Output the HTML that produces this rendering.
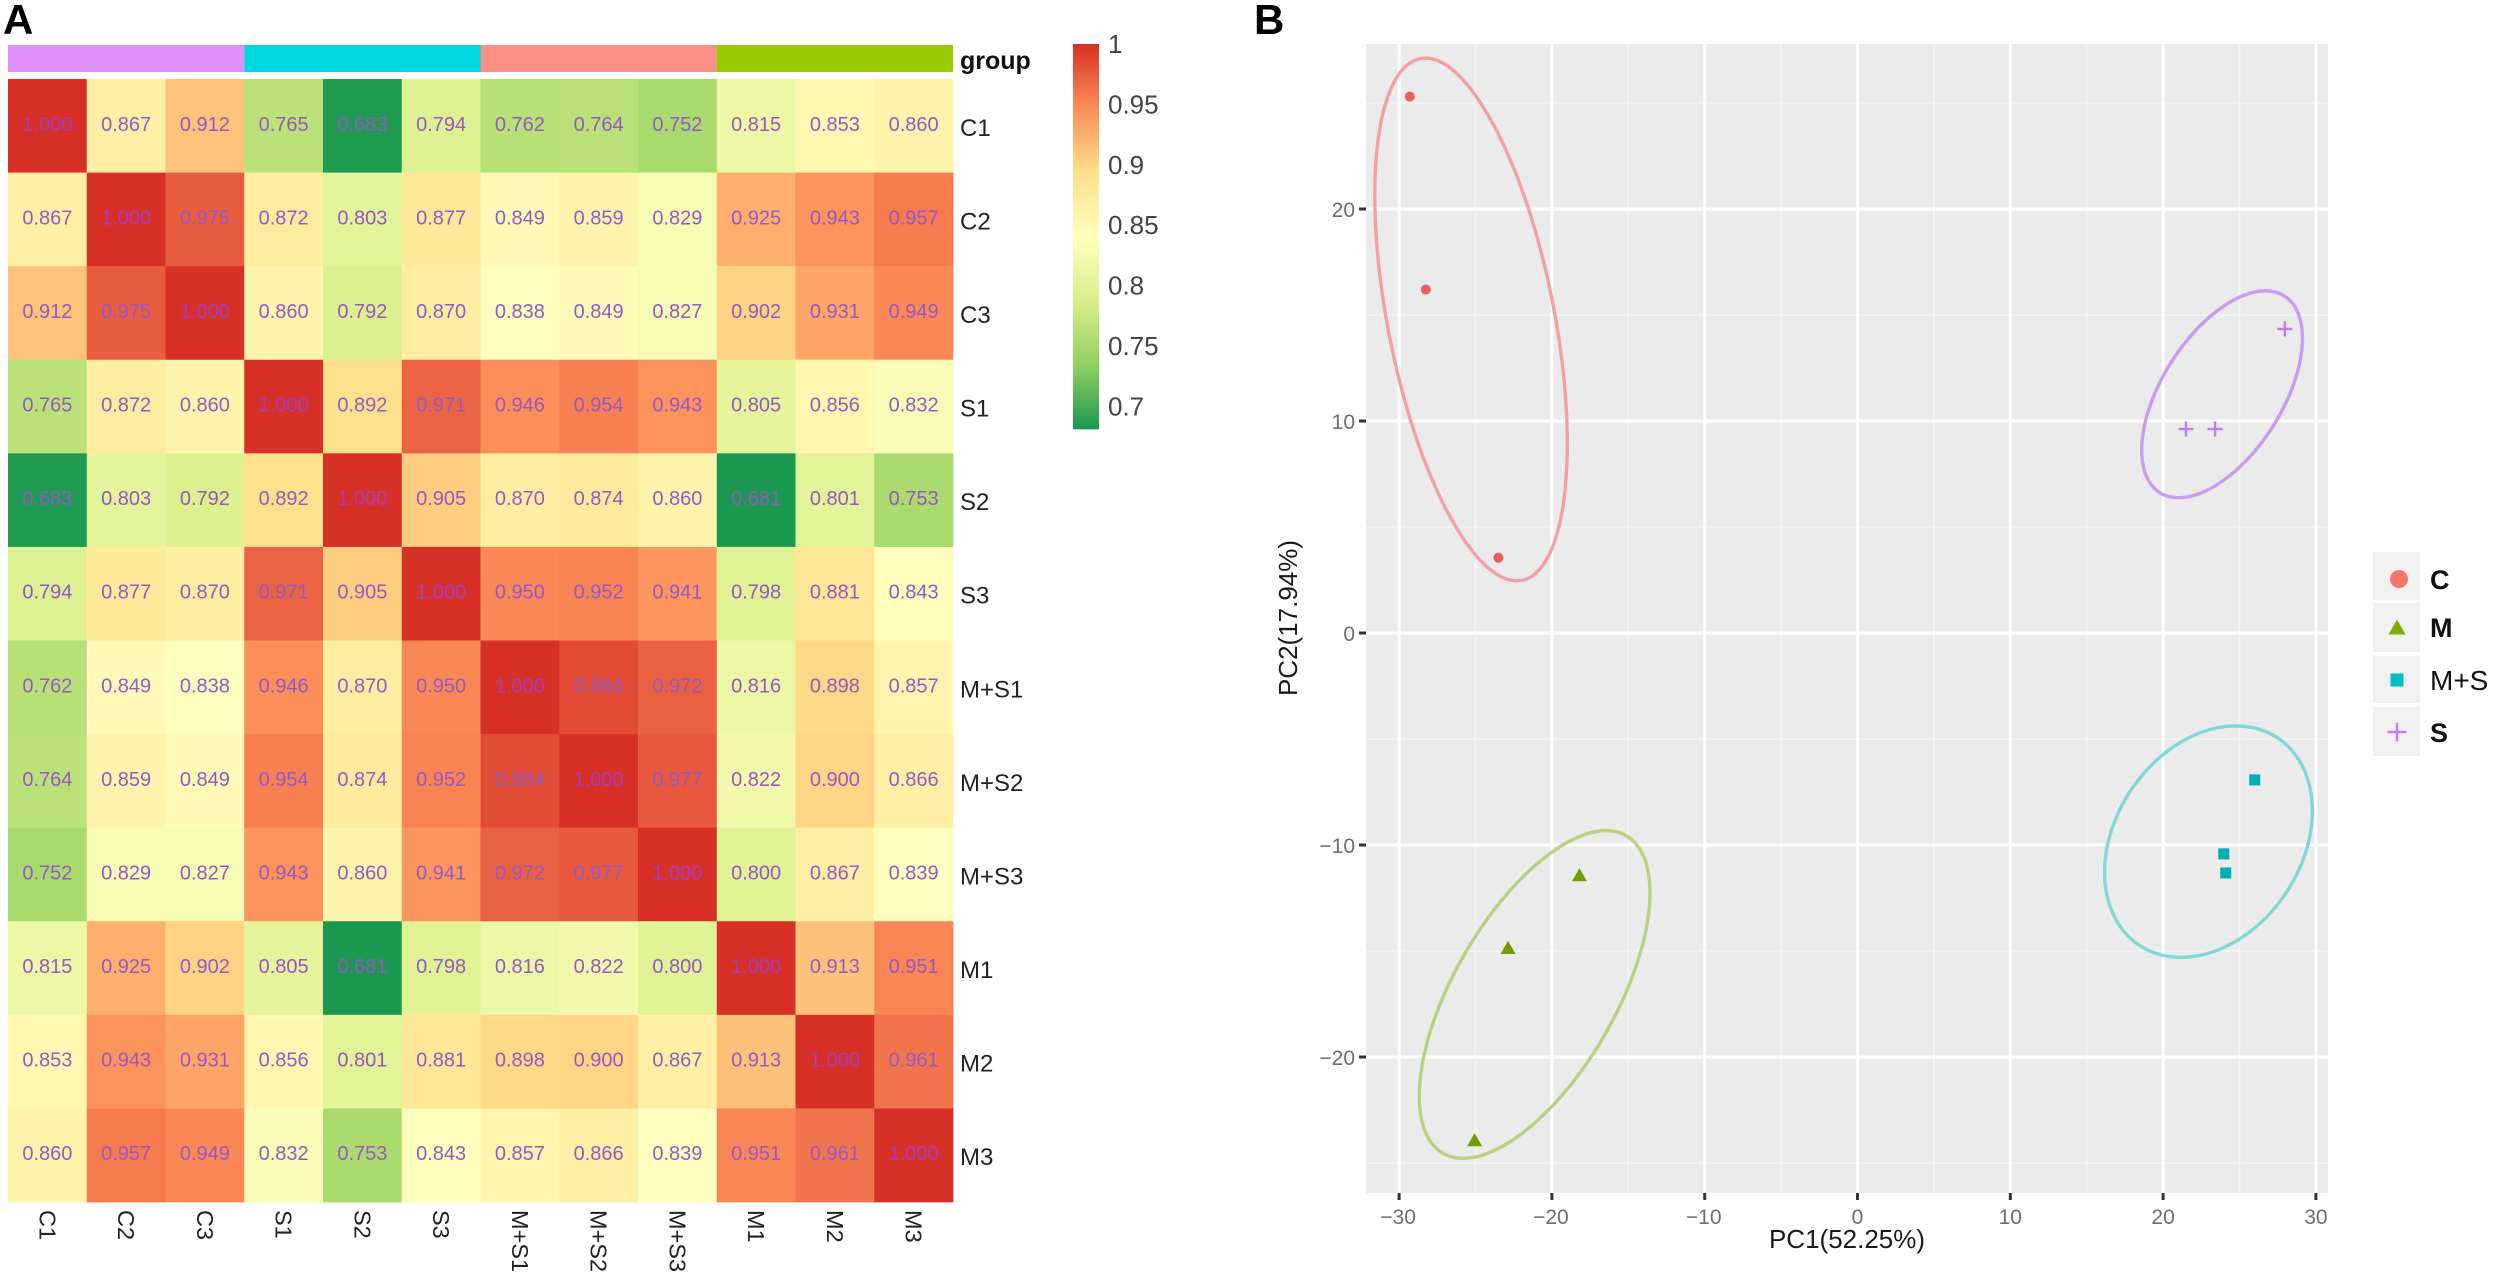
<!DOCTYPE html>
<html lang="en">
<head>
<meta charset="utf-8">
<title>Correlation heatmap and PCA plot</title>
<style>
html,body{margin:0;padding:0;background:#fff;width:2500px;height:1284px;overflow:hidden}
svg{display:block}
text{font-family:"Liberation Sans",sans-serif}
</style>
</head>
<body>
<svg id="figure" xmlns="http://www.w3.org/2000/svg" width="2500" height="1284" viewBox="0 0 2500 1284">
  <rect x="0" y="0" width="2500" height="1284" fill="#ffffff"/>
  <text x="3" y="34" font-size="42" font-weight="bold" fill="#000">A</text>
  <text x="1254" y="34" font-size="42" font-weight="bold" fill="#000">B</text>
  <g id="heatmap"></g>
  <g id="colorbar"></g>
  <g id="pca"></g>
  <text x="1847" y="1248" font-size="26" text-anchor="middle" fill="#1a1a1a">PC1(52.25%)</text>
  <text transform="translate(1297,618) rotate(-90)" font-size="26" text-anchor="middle" fill="#1a1a1a">PC2(17.94%)</text>
  <g id="legend"></g>
</svg>
<script>
/* ---------- heatmap data ---------- */
const sampleLabels = ["C1","C2","C3","S1","S2","S3","M+S1","M+S2","M+S3","M1","M2","M3"];
const groupNames = ["group-c","group-s","group-m-s","group-m"];
const groupColors = ["#df90fb","#00d8e0","#fb9087","#99cc00"];
const rowC1 = [1.000,0.867,0.912,0.765,0.683,0.794,0.762,0.764,0.752,0.815,0.853,0.860];
const rowC2 = [0.867,1.000,0.975,0.872,0.803,0.877,0.849,0.859,0.829,0.925,0.943,0.957];
const rowC3 = [0.912,0.975,1.000,0.860,0.792,0.870,0.838,0.849,0.827,0.902,0.931,0.949];
const rowS1 = [0.765,0.872,0.860,1.000,0.892,0.971,0.946,0.954,0.943,0.805,0.856,0.832];
const rowS2 = [0.683,0.803,0.792,0.892,1.000,0.905,0.870,0.874,0.860,0.681,0.801,0.753];
const rowS3 = [0.794,0.877,0.870,0.971,0.905,1.000,0.950,0.952,0.941,0.798,0.881,0.843];
const rowMS1 = [0.762,0.849,0.838,0.946,0.870,0.950,1.000,0.984,0.972,0.816,0.898,0.857];
const rowMS2 = [0.764,0.859,0.849,0.954,0.874,0.952,0.984,1.000,0.977,0.822,0.900,0.866];
const rowMS3 = [0.752,0.829,0.827,0.943,0.860,0.941,0.972,0.977,1.000,0.800,0.867,0.839];
const rowM1 = [0.815,0.925,0.902,0.805,0.681,0.798,0.816,0.822,0.800,1.000,0.913,0.951];
const rowM2 = [0.853,0.943,0.931,0.856,0.801,0.881,0.898,0.900,0.867,0.913,1.000,0.961];
const rowM3 = [0.860,0.957,0.949,0.832,0.753,0.843,0.857,0.866,0.839,0.951,0.961,1.000];
const correlationRows = [rowC1,rowC2,rowC3,rowS1,rowS2,rowS3,rowMS1,rowMS2,rowMS3,rowM1,rowM2,rowM3];
const colorbarTicks = [1,0.95,0.9,0.85,0.8,0.75,0.7];
const colorbarTickLabels = ["1","0.95","0.9","0.85","0.8","0.75","0.7"];
const colorRamp = ["#1a9850","#91cf60","#d9ef8b","#ffffbf","#fee08b","#fc8d59","#d73027"];
const colorDomain = [0.681,1];

/* ---------- PCA data ---------- */
const xTicks = [-30,-20,-10,0,10,20,30];
const yTicks = [-20,-10,0,10,20];
const xMinorTicks = [-25,-15,-5,5,15,25];
const yMinorTicks = [-25,-15,-5,5,15,25];
const cPC1 = [-29.3,-28.25,-23.5];
const cPC2 = [25.3,16.2,3.55];
const mPC1 = [-18.2,-22.87,-25.06];
const mPC2 = [-11.4,-14.83,-23.9];
const msPC1 = [26.0,23.97,24.1];
const msPC2 = [-6.93,-10.42,-11.32];
const sPC1 = [27.97,21.5,23.4];
const sPC2 = [14.34,9.62,9.62];
const ellipseCenterPC1 = [-25.29,-21.13,22.97,23.86];
const ellipseCenterPC2 = [14.79,-17.05,-9.84,11.26];
const ellipseSpreadPC1 = [6.3,7.55,6.8,5.26];
const ellipseSpreadPC2 = [12.33,7.73,5.46,4.88];
const ellipseCorrelation = [-0.475,0.62,0.265,0.54];
const legendLabels = ["C","M","M+S","S"];

const NS = "http://www.w3.org/2000/svg";
function mk(parent, tag, attrs, txt){
  const e = document.createElementNS(NS, tag);
  for (const k in attrs) e.setAttribute(k, attrs[k]);
  if (txt !== undefined) e.textContent = txt;
  parent.appendChild(e);
  return e;
}
function hexRgb(h){ return [1,3,5].map(i=>parseInt(h.substr(i,2),16)); }
function colorFor(v){
  const t = Math.max(0,Math.min(1,(v-colorDomain[0])/(colorDomain[1]-colorDomain[0])));
  const p = t*(colorRamp.length-1), i = Math.min(colorRamp.length-2,Math.floor(p)), f = p-i;
  const a = hexRgb(colorRamp[i]), b = hexRgb(colorRamp[i+1]);
  return "rgb("+a.map((c,k)=>Math.round(c+(b[k]-c)*f)).join(",")+")";
}

/* ---------- heatmap ---------- */
const hm = document.getElementById("heatmap");
const hmLeft = 8, hmRight = 953, hmTop = 79, hmBottom = 1202;
const cellW = (hmRight-hmLeft)/sampleLabels.length;
const cellH = (hmBottom-hmTop)/correlationRows.length;
const colX = i => hmLeft + i*cellW;
const rowY = i => hmTop + i*cellH;

groupColors.forEach(function(color,g){
  const bar = mk(hm,"rect",{x:colX(g*3),y:45,width:cellW*3,height:27,fill:color});
  
  
});
const groupTitle = mk(hm,"text",{x:960,y:69,"font-size":25,"font-weight":"bold",fill:"#111"},"group");



correlationRows.forEach(function(row,r){
  row.forEach(function(v,c){
    const cell = mk(hm,"rect",{x:colX(c),y:rowY(r),width:cellW+0.4,height:cellH+0.4,fill:colorFor(v)});
    
    
  });
});
correlationRows.forEach(function(row,r){
  row.forEach(function(v,c){
    const t = mk(hm,"text",{x:colX(c)+cellW/2,y:rowY(r)+cellH/2+5,"font-size":20,"text-anchor":"middle",fill:v>=0.99?"#a63cc0":"#9658c4"},v.toFixed(3));
    
    
  });
});
sampleLabels.forEach(function(lab,i){
  const rl = mk(hm,"text",{x:960,y:rowY(i)+cellH/2+10,"font-size":24,fill:"#222"},lab);
  
  
  const cx = colX(i)+cellW/2;
  const cl = mk(hm,"text",{transform:"translate("+(cx-8)+",1210) rotate(90)","font-size":23.5,fill:"#222"},lab);
  
  
});

/* ---------- color bar ---------- */
const cb = document.getElementById("colorbar");
const cbY = v => 44 + (1-v)*1208;
const defs = mk(cb,"defs",{});
const grad = mk(defs,"linearGradient",{id:"rampGradient",x1:0,y1:1,x2:0,y2:0});
colorRamp.forEach(function(col,i){
  mk(grad,"stop",{offset:(i/(colorRamp.length-1)),"stop-color":col});
});
const cbRect = mk(cb,"rect",{x:1073,y:cbY(colorDomain[1]),width:26,height:cbY(colorDomain[0])-cbY(colorDomain[1]),fill:"url(#rampGradient)"});


colorbarTicks.forEach(function(v,i){
  const t = mk(cb,"text",{x:1108,y:cbY(v)+9,"font-size":26,fill:"#444"},colorbarTickLabels[i]);
  
  
});

/* ---------- PCA plot ---------- */
const pca = document.getElementById("pca");
const panelLeft = 1366, panelRight = 2328, panelTop = 44, panelBottom = 1193;
const sx = v => 1857.5 + v*15.28;
const sy = v => 633 - v*21.2;
const panel = mk(pca,"rect",{x:panelLeft,y:panelTop,width:panelRight-panelLeft,height:panelBottom-panelTop,fill:"#ebebeb"});



xMinorTicks.forEach(function(v){
  const l = mk(pca,"line",{x1:sx(v),x2:sx(v),y1:panelTop,y2:panelBottom,stroke:"#f4f4f4","stroke-width":1.6});
  
  
});
yMinorTicks.forEach(function(v){
  const l = mk(pca,"line",{x1:panelLeft,x2:panelRight,y1:sy(v),y2:sy(v),stroke:"#f4f4f4","stroke-width":1.6});
  
  
});
xTicks.forEach(function(v){
  const l = mk(pca,"line",{x1:sx(v),x2:sx(v),y1:panelTop,y2:panelBottom,stroke:"#ffffff","stroke-width":3});
  
  
  const tick = mk(pca,"line",{x1:sx(v),x2:sx(v),y1:panelBottom,y2:panelBottom+7,stroke:"#333","stroke-width":3});
  
  
  const t = mk(pca,"text",{x:sx(v)-(v<0?1:0),y:1224,"font-size":21,"text-anchor":"middle",fill:"#6e6e6e"},String(v).replace("-","\u2212"));
  
  
});
yTicks.forEach(function(v){
  const l = mk(pca,"line",{x1:panelLeft,x2:panelRight,y1:sy(v),y2:sy(v),stroke:"#ffffff","stroke-width":3});
  
  
  const tick = mk(pca,"line",{x1:panelLeft-7,x2:panelLeft,y1:sy(v),y2:sy(v),stroke:"#333","stroke-width":3});
  
  
  const t = mk(pca,"text",{x:1355,y:sy(v)+8,"font-size":21,"text-anchor":"end",fill:"#6e6e6e"},String(v).replace("-","\u2212"));
  
  
});

const ellipseColors = ["#f4a0a2","#b9d181","#80d9d6","#c99cf2"];
const ellipseNames = ["ellipse-c","ellipse-m","ellipse-m-s","ellipse-s"];
ellipseCenterPC1.forEach(function(cx,i){
  const cy = ellipseCenterPC2[i], ax = ellipseSpreadPC1[i], ay = ellipseSpreadPC2[i], rho = ellipseCorrelation[i];
  const pts = [];
  for (let k=0;k<120;k++){
    const t = k/120*2*Math.PI;
    pts.push(sx(cx+ax*Math.cos(t)).toFixed(1)+","+sy(cy+ay*(rho*Math.cos(t)+Math.sqrt(1-rho*rho)*Math.sin(t))).toFixed(1));
  }
  const el = mk(pca,"polygon",{points:pts.join(" "),fill:"none",stroke:ellipseColors[i],"stroke-width":3.4});
  
  
});

function drawCircle(g,x,y,r,col){ return mk(g,"circle",{cx:x,cy:y,r:r,fill:col}); }
function drawTriangle(g,x,y,w,col){ const h=w*0.88; return mk(g,"polygon",{points:(x-w/2)+","+(y+h/2)+" "+x+","+(y-h/2)+" "+(x+w/2)+","+(y+h/2),fill:col}); }
function drawSquare(g,x,y,s,col){ return mk(g,"rect",{x:x-s/2,y:y-s/2,width:s,height:s,fill:col}); }
function drawPlus(g,x,y,s,col){ return mk(g,"path",{d:"M"+(x-s/2)+" "+y+"H"+(x+s/2)+"M"+x+" "+(y-s/2)+"V"+(y+s/2),stroke:col,"stroke-width":2.4,fill:"none"}); }

cPC1.forEach(function(v,i){
  const m = drawCircle(pca,sx(v),sy(cPC2[i]),5,"#ea5f5c");
  
  
});
mPC1.forEach(function(v,i){
  const m = drawTriangle(pca,sx(v),sy(mPC2[i]),15,"#6f9e00");
  
  
});
msPC1.forEach(function(v,i){
  const m = drawSquare(pca,sx(v),sy(msPC2[i]),11,"#00aeb3");
  
  
});
sPC1.forEach(function(v,i){
  const m = drawPlus(pca,sx(v),sy(sPC2[i]),15,"#c17ee8");
  
  
});

/* ---------- legend ---------- */
const lg = document.getElementById("legend");
const legendKeyTop = [552,603,656,707];
const legendKeyH = [48,49,47,49];
const legendCenter = [579,627,680,732];
legendLabels.forEach(function(lab,i){
  const key = mk(lg,"rect",{x:2373,y:legendKeyTop[i],width:47,height:legendKeyH[i],fill:"#f1f1f1"});
  
  
  let sym;
  if (i===0) sym = drawCircle(lg,2399,legendCenter[i],9,"#f8766d");
  if (i===1) sym = drawTriangle(lg,2397,legendCenter[i],17,"#7cae00");
  if (i===2) sym = drawSquare(lg,2397,legendCenter[i],13,"#00bfc4");
  if (i===3) sym = drawPlus(lg,2397,legendCenter[i],19,"#c77cff");
  
  
  const t = mk(lg,"text",{x:2430,y:legendCenter[i]+10,"font-size":i===2?28:27,"font-weight":i===2?"normal":"bold",fill:"#111"},lab);
  
  
});
</script>
</body>
</html>
